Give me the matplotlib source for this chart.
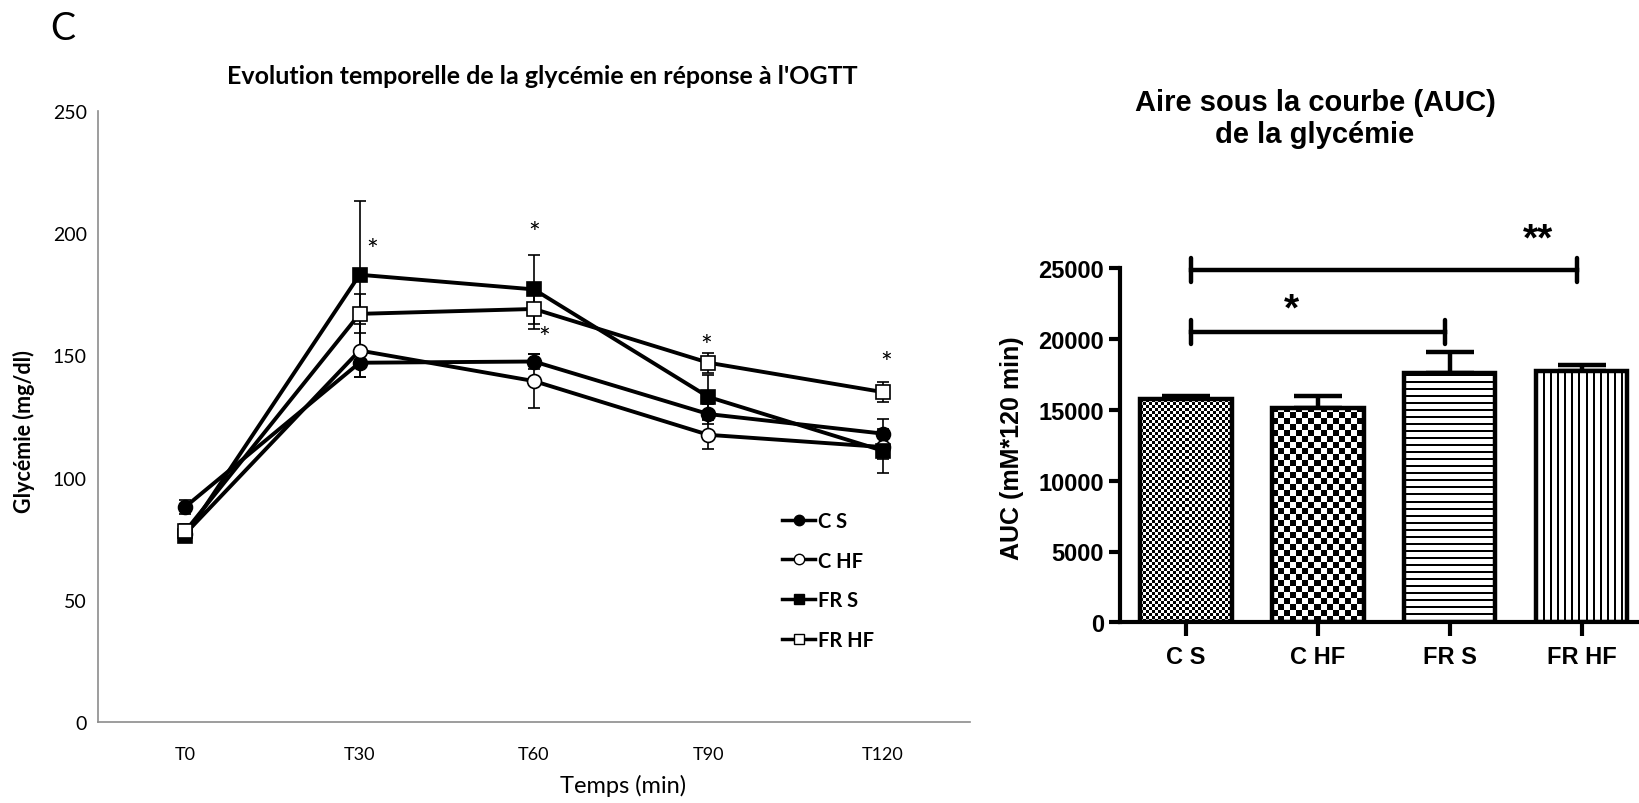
import numpy as np
import matplotlib.pyplot as plt
from matplotlib.lines import Line2D

# OGTT glycaemia over time (mg/dl), mean and error per group
times = ["T0", "T30", "T60", "T90", "T120"]
groups = ["C S", "C HF", "FR S", "FR HF"]

cs_mean = [88, 147, 147.5, 126, 118]
cs_err = [3, 6, 3, 4, 6]
chf_mean = [77, 152, 139.5, 117.5, 112.5]
chf_err = [2, 11, 11, 6, 5]
frs_mean = [76, 183, 177, 133, 111]
frs_err = [2, 30, 14, 9, 9]
frhf_mean = [78, 167, 169, 147, 135]
frhf_err = [3, 8, 8, 4, 4]

# significance stars on the time course
star_x = [1.07, 2.0, 2.06, 2.99, 4.02]
star_y = [196, 203, 160, 157, 150]

# area under the curve
auc_mean = [15770, 15110, 17600, 17720]
auc_err = [190, 890, 1460, 470]
sig_pairs = [(0, 2), (0, 3)]
sig_y = [20480, 24900]
sig_labels = ["*", "**"]
sig_label_x = [0.8, 2.67]
sig_label_y = [22100, 27000]

W, H = 1640, 804
fig = plt.figure(figsize=(W / 100, H / 100), dpi=100)

# ---------------- left panel: time course ----------------
calib = "Lato"
ax1 = fig.add_axes([98 / W, 81 / H, 872 / W, 611 / H])
x = np.arange(len(times))

series = [
    (cs_mean, cs_err, "o", "black"),
    (chf_mean, chf_err, "o", "white"),
    (frs_mean, frs_err, "s", "black"),
    (frhf_mean, frhf_err, "s", "white"),
]
for mean, err, mk, fc in series:
    ax1.errorbar(x, mean, yerr=err, color="black", lw=2.8, marker=mk,
                 markersize=10, markerfacecolor=fc, markeredgecolor="black",
                 markeredgewidth=1.2, ecolor="black", elinewidth=1.2,
                 capsize=4, capthick=1.2)

for sx, sy in zip(star_x, star_y):
    ax1.annotate("*", (sx, sy), xytext=(0, -6), textcoords="offset points",
                 ha="center", va="center", fontsize=20, family=calib)

ax1.set_xlim(-0.5, len(times) - 0.5)
ax1.set_ylim(0, 250)
ax1.set_yticks(range(0, 251, 50))
ax1.set_xticks(x)
ax1.set_xticklabels(times)
ax1.tick_params(axis="y", length=0, labelsize=14, pad=8)
ax1.tick_params(axis="x", length=0, labelsize=13, pad=17)
for lab in ax1.get_xticklabels() + ax1.get_yticklabels():
    lab.set_family(calib)
for side in ["top", "right"]:
    ax1.spines[side].set_visible(False)
for side in ["left", "bottom"]:
    ax1.spines[side].set_color("#8c8c8c")
    ax1.spines[side].set_linewidth(1.2)

fig.text(623 / W, 1 - 786 / H, "Temps (min)", ha="center", va="center",
         family=calib, fontsize=17)
fig.text(24 / W, 1 - 432 / H, "Glycémie (mg/dl)", rotation=90, ha="center",
         va="center", family=calib, fontweight="bold", fontsize=15.5)
fig.text(542 / W, 1 - 77 / H,
         "Evolution temporelle de la glycémie en réponse à l'OGTT",
         ha="center", va="center", family=calib, fontweight="bold",
         fontsize=18)
fig.text(63 / W, 1 - 29 / H, "C", ha="center", va="center", family=calib,
         fontsize=27)

handles = []
for mean, err, mk, fc in series:
    handles.append(Line2D([], [], color="black", lw=2.5, marker=mk,
                          markersize=7.5, markerfacecolor=fc,
                          markeredgecolor="black"))
leg = ax1.legend(handles, groups, loc="upper left",
                 bbox_to_anchor=(782 / W, 1 - 512 / H),
                 bbox_transform=fig.transFigure, frameon=False,
                 handlelength=1.65, handletextpad=0.15, labelspacing=0.97,
                 borderpad=0, borderaxespad=0,
                 prop={"family": calib, "weight": "bold", "size": 14.5})

# ---------------- right panel: AUC bars ----------------
arial = "Liberation Sans"
ax2 = fig.add_axes([1120 / W, (H - 623.3) / H, 520 / W, 354 / H])
xb = np.arange(len(groups))
ax2.set_xlim(-0.5, 3.44)
ax2.set_ylim(0, 25000)

bars = ax2.bar(xb, auc_mean, width=0.69, facecolor="none",
               edgecolor="black", linewidth=3.2, zorder=3)
ax2.errorbar(xb, auc_mean, yerr=[np.zeros(len(auc_err)), auc_err],
             fmt="none", ecolor="black", elinewidth=3.2, capsize=17,
             capthick=3.2, zorder=1.5)


def fill_pattern(ax, bar, kind):
    # draw a pixel pattern inside the bar, clipped to its outline
    x0, y0 = bar.get_x(), bar.get_y()
    w, h = bar.get_width(), bar.get_height()
    xl, yl = ax.get_xlim(), ax.get_ylim()
    px_x = (xl[1] - xl[0]) / ax.bbox.width
    px_y = (yl[1] - yl[0]) / ax.bbox.height
    nx = int(round(w / px_x))
    ny = int(round(h / px_y))
    i, j = np.indices((ny, nx))
    if kind == "fine":
        arr = ((i // 3) + (j // 3)) % 2
    elif kind == "check":
        arr = ((i // 6) + (j // 6)) % 2
    elif kind == "hlines":
        arr = (i % 7 < 2).astype(int)
    else:
        arr = (j % 7 < 2).astype(int)
    im = ax.imshow(arr, extent=(x0, x0 + w, y0, y0 + h), origin="lower",
                   cmap="gray_r", vmin=0, vmax=1, interpolation="nearest",
                   aspect="auto", zorder=2)
    im.set_clip_path(bar)


for bar, kind in zip(bars, ["fine", "check", "hlines", "vlines"]):
    fill_pattern(ax2, bar, kind)
ax2.set_xlim(-0.5, 3.44)
ax2.set_ylim(0, 25000)

cap = 850
for (a, b), yy in zip(sig_pairs, sig_y):
    x0, x1 = a + 0.04, b - 0.04
    ax2.plot([x0, x1], [yy, yy], color="black", lw=3.2, clip_on=False)
    ax2.plot([x0, x0], [yy - cap, yy + cap], color="black", lw=3.2,
             clip_on=False, solid_capstyle="round")
    ax2.plot([x1, x1], [yy - cap, yy + cap], color="black", lw=3.2,
             clip_on=False, solid_capstyle="round")
for lx, ly, txt in zip(sig_label_x, sig_label_y, sig_labels):
    ax2.text(lx, ly, txt, ha="center", va="center", fontsize=28,
             fontweight="bold", family=arial)

ax2.set_xticks(xb)
ax2.set_xticklabels(groups)
ax2.set_yticks(range(0, 25001, 5000))
ax2.tick_params(width=3, length=8, labelsize=17, direction="out")
ax2.tick_params(axis="x", length=10, pad=6)
for lab in ax2.get_xticklabels() + ax2.get_yticklabels():
    lab.set_family(arial)
    lab.set_fontweight("bold")
for side in ["top", "right"]:
    ax2.spines[side].set_visible(False)
for side in ["left", "bottom"]:
    ax2.spines[side].set_linewidth(3)

fig.text(1012 / W, 1 - 448 / H, "AUC (mM*120 min)", rotation=90,
         ha="center", va="center", family=arial, fontweight="bold",
         fontsize=18)
fig.text(1315 / W, 1 - 119 / H, "Aire sous la courbe (AUC)\nde la glycémie",
         ha="center", va="center", family=arial, fontweight="bold",
         fontsize=21, linespacing=1.15)

fig.savefig("out.png", dpi=100)
